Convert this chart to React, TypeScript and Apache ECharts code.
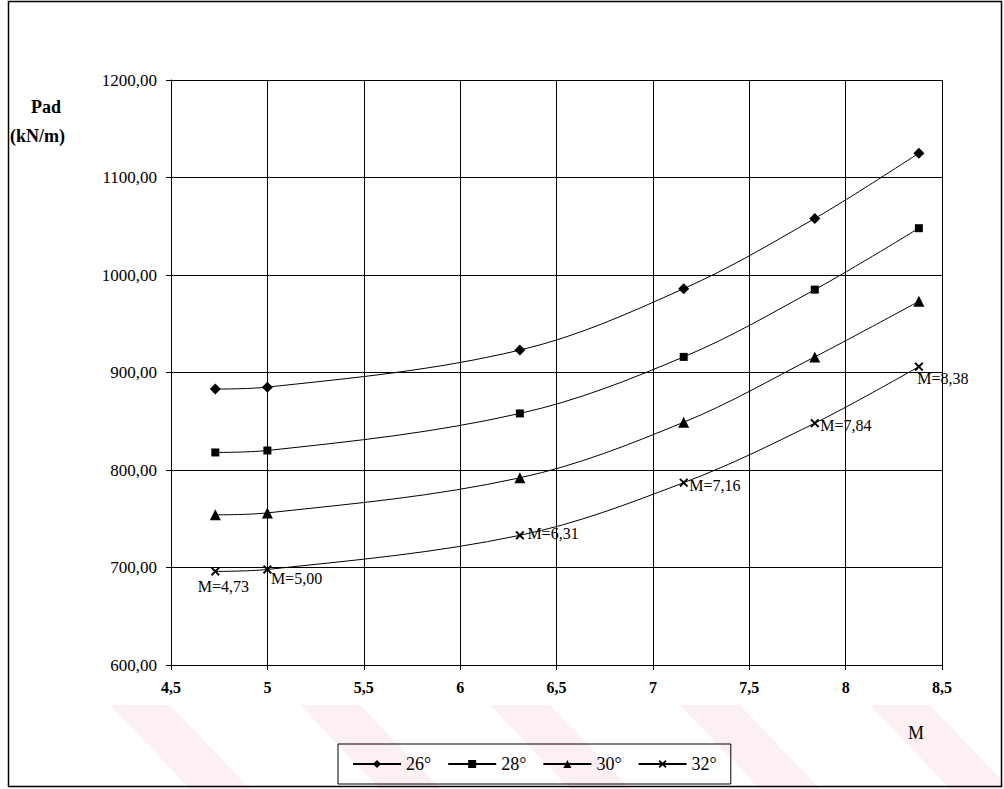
import React, { useEffect, useRef } from "react";
import * as echarts from "echarts";

const mValues = [4.73, 5.0, 6.31, 7.16, 7.84, 8.38];
const series26 = [883, 885, 923, 986, 1058, 1125];
const series28 = [818, 820, 858, 916, 985, 1048];
const series30 = [754, 756, 792, 849, 916, 973];
const series32 = [696, 698, 733, 787, 848, 906];
const seriesNames = ["26°", "28°", "30°", "32°"];
const yTicks = { min: 600, max: 1200, interval: 100 };
const xTicks = { min: 4.5, max: 8.5, interval: 0.5 };

const FONT = "Liberation Serif";
const CROSS =
  "path://M0,1.5 L1.5,0 L5,3.5 L8.5,0 L10,1.5 L6.5,5 L10,8.5 L8.5,10 L5,6.5 L1.5,10 L0,8.5 L3.5,5 Z";

const comma = (v: number, d: number) => v.toFixed(d).replace(".", ",");

export default function App() {
  const ref = useRef<HTMLDivElement>(null);
  useEffect(() => {
    if (!ref.current) return;
    const chart = echarts.init(ref.current, null, { renderer: "svg" });

    const labelPlacement = [
      { position: "bottom", offset: [8, -2] },
      { position: "right", offset: [-6, 9] },
      { position: "right", offset: [-2, -2] },
      { position: "right", offset: [-4, 3] },
      { position: "right", offset: [-4, 2] },
      { position: "bottom", offset: [24, -6] },
    ];

    const mk = (vals: number[]) => vals.map((v, i) => [mValues[i], v]);
    const data32 = series32.map((v, i) => ({
      value: [mValues[i], v],
      label: {
        show: true,
        formatter: "M=" + comma(mValues[i], 2),
        position: labelPlacement[i].position,
        offset: labelPlacement[i].offset,
        color: "#000",
        fontFamily: FONT,
        fontSize: 16,
      },
    }));

    const base = {
      type: "line",
      smooth: 0.35,
      lineStyle: { color: "#000", width: 1 },
      itemStyle: { color: "#000" },
      emphasis: { disabled: true },
    };

    const stripes: any[] = [];
    const starts = [110, 300, 490, 680, 870];
    starts.forEach((sx) => {
      stripes.push({
        type: "polygon",
        silent: true,
        z: -10,
        shape: {
          points: [
            [sx, 705],
            [sx + 60, 705],
            [sx + 140, 789],
            [sx + 80, 789],
          ],
        },
        style: { fill: "#fdf0f2" },
      });
    });

    chart.setOption({
      animation: false,
      backgroundColor: "#fff",
      grid: { left: 171, right: 62, top: 80, bottom: 124, containLabel: false },
      xAxis: {
        type: "value",
        min: xTicks.min,
        max: xTicks.max,
        interval: xTicks.interval,
        axisLine: { show: true, lineStyle: { color: "#000", width: 1 } },
        axisTick: { show: true, length: 5, lineStyle: { color: "#000" } },
        splitLine: { show: true, lineStyle: { color: "#000", width: 1 } },
        axisLabel: {
          color: "#000",
          fontFamily: FONT,
          fontWeight: "bold",
          fontSize: 16,
          margin: 14,
          formatter: (v: number) => comma(v, Number.isInteger(v) ? 0 : 1),
        },
      },
      yAxis: {
        type: "value",
        min: yTicks.min,
        max: yTicks.max,
        interval: yTicks.interval,
        axisLine: { show: true, lineStyle: { color: "#000", width: 1 } },
        axisTick: { show: true, length: 5, lineStyle: { color: "#000" } },
        splitLine: { show: true, lineStyle: { color: "#000", width: 1 } },
        axisLabel: {
          color: "#000",
          fontFamily: FONT,
          fontSize: 17,
          margin: 14,
          formatter: (v: number) => comma(v, 2),
        },
      },
      legend: {
        left: 338,
        top: 744,
        itemWidth: 48,
        itemHeight: 10,
        itemGap: 16,
        padding: [11, 14, 11, 14],
        borderColor: "#000",
        borderWidth: 1,
        textStyle: { color: "#000", fontFamily: FONT, fontSize: 18 },
        data: seriesNames,
        selectedMode: false,
      },
      graphic: [
        ...stripes,
        {
          type: "rect",
          silent: true,
          shape: { x: 8.5, y: 1.5, width: 993, height: 785 },
          style: { fill: "none", stroke: "#000", lineWidth: 1.5 },
        },
        {
          type: "text",
          left: 31,
          top: 98,
          style: {
            text: "Pad",
            fill: "#000",
            fontFamily: FONT,
            fontWeight: "bold",
            fontSize: 18,
          },
        },
        {
          type: "text",
          left: 10,
          top: 127,
          style: {
            text: "(kN/m)",
            fill: "#000",
            fontFamily: FONT,
            fontWeight: "bold",
            fontSize: 18,
          },
        },
        {
          type: "text",
          left: 908,
          top: 724,
          style: {
            text: "M",
            fill: "#000",
            fontFamily: FONT,
            fontSize: 18,
          },
        },
      ],
      series: [
        { ...base, name: seriesNames[0], data: mk(series26), symbol: "diamond", symbolSize: 11 },
        { ...base, name: seriesNames[1], data: mk(series28), symbol: "rect", symbolSize: 8 },
        { ...base, name: seriesNames[2], data: mk(series30), symbol: "triangle", symbolSize: 11 },
        { ...base, name: seriesNames[3], data: data32, symbol: CROSS, symbolSize: 9 },
      ],
    });
    return () => chart.dispose();
  }, []);
  return (
    <div
      ref={ref}
      style={{ position: "fixed", left: 0, top: 0, width: 1004, height: 789 }}
    />
  );
}
